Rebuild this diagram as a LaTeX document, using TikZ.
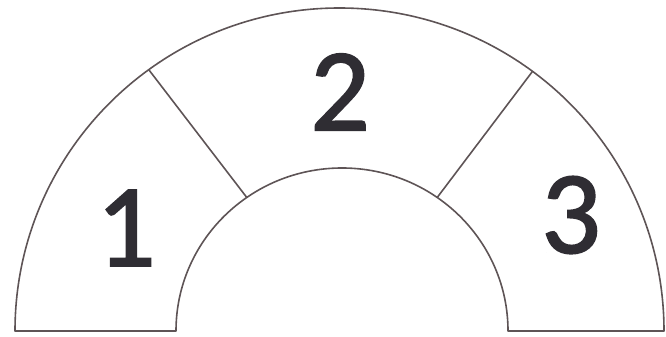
\documentclass[tikz,border=0pt]{standalone}
\usepackage{fontspec}
\setmainfont{Carlito}
\newfontfamily\digitfont[FakeBold=1.5]{Carlito}
\usetikzlibrary{calc}
\definecolor{edge}{HTML}{5E5456}
\definecolor{digit}{HTML}{2F2D33}
\tikzset{
  outline/.style={draw=edge, line width=1.6pt, line join=round},
  numlabel/.style={text=digit, font=\digitfont\fontsize{118}{118}\selectfont, inner sep=0pt, anchor=center}
}
\begin{document}
\begin{tikzpicture}[x=1pt,y=1pt]
\useasboundingbox (0,0) rectangle (666,337);
% key points
\coordinate (oc) at (339.5,6);
\coordinate (ic) at (342,6);
\coordinate (oL) at (15,6);
\coordinate (iR) at (508,6);
\coordinate (d1o) at ([shift={(126:324.5 and 323)}]oc);
\coordinate (d1i) at ([shift={(125:166 and 163)}]ic);
\coordinate (d2o) at ([shift={(53.5:324.5 and 323)}]oc);
\coordinate (d2i) at ([shift={(55:166 and 163)}]ic);
% outline
\draw[outline] (oL) arc[start angle=180, end angle=0, x radius=324.5, y radius=323]
  -- (iR) arc[start angle=0, end angle=180, x radius=166, y radius=163] -- cycle;
\draw[outline] (d1o) -- (d1i);
\draw[outline] (d2o) -- (d2i);
\node[numlabel] (n1) at (126,109) {1};
\node[numlabel] (n2) at (340,245) {2};
\node[numlabel] (n3) at (571,122) {3};
\end{tikzpicture}
\end{document}
